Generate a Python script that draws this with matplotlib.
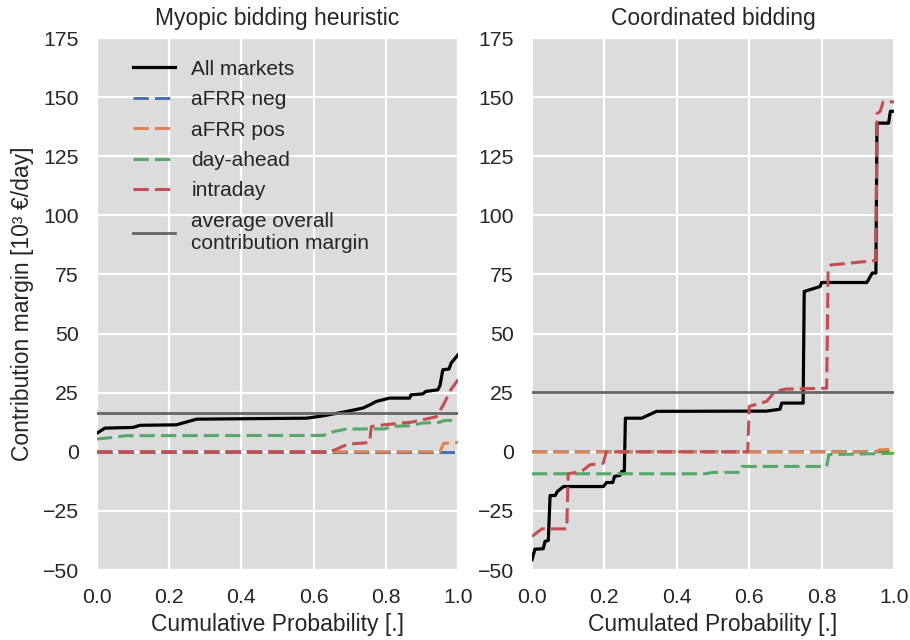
import matplotlib
matplotlib.use("Agg")
import matplotlib.pyplot as plt
import numpy as np

plt.rcParams['font.family'] = ['Liberation Sans', 'DejaVu Sans']

# ---------------- data ----------------
# Left panel: Myopic bidding heuristic
l_all_p = [0.0, 0.022, 0.10, 0.119, 0.22, 0.276, 0.58, 0.626, 0.69, 0.737, 0.755, 0.774, 0.81,
           0.866, 0.87, 0.903, 0.91, 0.944, 0.95, 0.958, 0.975, 0.981, 1.0]
l_all_v = [7.9, 10.0, 10.3, 11.2, 11.4, 13.8, 14.2, 15.2, 17.0, 18.5, 19.8, 21.3, 22.7,
           22.7, 24.1, 24.5, 25.5, 26.2, 28.0, 34.7, 35.0, 37.5, 41.0]
l_neg_p = [0.0, 1.0]
l_neg_v = [0.0, 0.0]
l_pos_p = [0.0, 0.95, 0.96, 1.0]
l_pos_v = [0.0, 0.0, 3.5, 4.0]
l_da_p = [0.0, 0.04, 0.08, 0.626, 0.655, 0.69, 0.80, 0.81, 0.866, 0.90, 0.95, 0.96, 1.0]
l_da_v = [5.4, 6.0, 6.8, 6.9, 8.5, 9.6, 9.7, 10.7, 11.0, 12.1, 12.5, 13.2, 13.3]
l_id_p = [0.0, 0.645, 0.67, 0.68, 0.70, 0.74, 0.755, 0.76, 0.80, 0.87, 0.94, 0.96, 0.98, 1.0]
l_id_v = [0.0, 0.0, 1.5, 2.3, 3.3, 3.7, 4.0, 10.7, 11.5, 12.5, 14.8, 20.0, 26.2, 30.5]
l_avg = 16.6

# Right panel: Coordinated bidding
r_all_p = [0.0, 0.008, 0.031, 0.036, 0.045, 0.05, 0.064, 0.07, 0.087, 0.197, 0.206, 0.223, 0.228,
           0.243, 0.248, 0.255, 0.258, 0.303, 0.344, 0.648, 0.685, 0.69, 0.749, 0.752, 0.796,
           0.80, 0.925, 0.94, 0.950, 0.953, 0.985, 0.99, 1.0]
r_all_v = [-45.7, -41.2, -41.0, -37.9, -37.5, -18.5, -18.5, -16.8, -14.7, -14.7, -13.0, -13.0, -10.4,
           -10.0, -8.3, -8.3, 14.2, 14.2, 17.1, 17.2, 18.0, 20.6, 20.6, 67.8, 69.9,
           71.6, 71.6, 75.6, 75.6, 139.0, 139.0, 144.0, 144.0]
r_neg_p = [0.0, 0.95, 1.0]
r_neg_v = [0.0, 0.0, 0.4]
r_pos_p = [0.0, 0.95, 0.96, 1.0]
r_pos_v = [0.0, 0.0, 0.8, 1.0]
r_da_p = [0.0, 0.48, 0.50, 0.575, 0.58, 0.814, 0.82, 0.95, 1.0]
r_da_v = [-9.3, -9.3, -8.7, -8.7, -6.2, -6.2, -1.2, -0.8, -0.6]
r_id_p = [0.0, 0.027, 0.096, 0.10, 0.137, 0.16, 0.197, 0.205, 0.596, 0.60, 0.648, 0.671, 0.70,
          0.814, 0.818, 0.825, 0.95, 0.953, 0.962, 0.97, 1.0]
r_id_v = [-35.8, -32.6, -32.6, -9.3, -8.3, -5.5, -4.8, 0.0, 0.0, 19.2, 21.3, 25.5, 26.5,
          26.9, 77.0, 79.0, 80.9, 143.0, 144.0, 148.0, 148.0]
r_avg = 25.1

titles = ["Myopic bidding heuristic", "Coordinated bidding"]
xlabels = ["Cumulative Probability [.]", "Cumulated Probability [.]"]
ylabel = "Contribution margin [10³ €/day]"
series_names = ["All markets", "aFRR neg", "aFRR pos", "day-ahead", "intraday"]
avg_name = "average overall\ncontribution margin"
yticks = [-50, -25, 0, 25, 50, 75, 100, 125, 150, 175]
xticks = [0.0, 0.2, 0.4, 0.6, 0.8, 1.0]

colors = ["black", "#4c72b0", "#dd8452", "#55a868", "#c44e52"]

panels = [
    [(l_all_p, l_all_v), (l_neg_p, l_neg_v), (l_pos_p, l_pos_v), (l_da_p, l_da_v), (l_id_p, l_id_v), l_avg],
    [(r_all_p, r_all_v), (r_neg_p, r_neg_v), (r_pos_p, r_pos_v), (r_da_p, r_da_v), (r_id_p, r_id_v), r_avg],
]

fig = plt.figure(figsize=(9.1, 6.4), dpi=100)
ax_l = fig.add_axes([97/910, 1-570/640, 361/910, 532/640])
ax_r = fig.add_axes([532/910, 1-570/640, 362/910, 532/640])

for i, (ax, data) in enumerate(zip([ax_l, ax_r], panels)):
    ax.set_facecolor("#dcdcdc")
    ax.grid(True, color="white", linewidth=1.6)
    ax.set_axisbelow(True)
    for s in ax.spines.values():
        s.set_visible(False)
    for k in range(5):
        p, v = data[k]
        if k == 0:
            ax.plot(p, v, color=colors[k], lw=2.3, label=series_names[k], zorder=3)
        else:
            ax.plot(p, v, color=colors[k], lw=2.2, ls=(0, (5, 2)), label=series_names[k], zorder=3)
    ax.axhline(data[5], color="#666666", lw=2.0, label=avg_name, zorder=3)
    ax.set_xlim(0, 1)
    ax.set_ylim(-50, 175)
    ax.set_xticks(xticks)
    ax.set_yticks(yticks)
    ax.tick_params(length=0, labelsize=15.3, pad=13, labelcolor="#262626")
    ax.set_title(titles[i], fontsize=16.5, pad=9, color="#262626")
    ax.set_xlabel(xlabels[i], fontsize=16.5, color="#262626", labelpad=4)

ax_l.set_ylabel(ylabel, fontsize=16.5, color="#262626", labelpad=6)
leg = ax_l.legend(loc="upper left", bbox_to_anchor=(0.077, 0.975), borderaxespad=0,
                  frameon=False, fontsize=15, labelspacing=0.55, handlelength=2.0)
for t in leg.get_texts():
    t.set_color("#262626")

fig.savefig("out.png", dpi=100)
